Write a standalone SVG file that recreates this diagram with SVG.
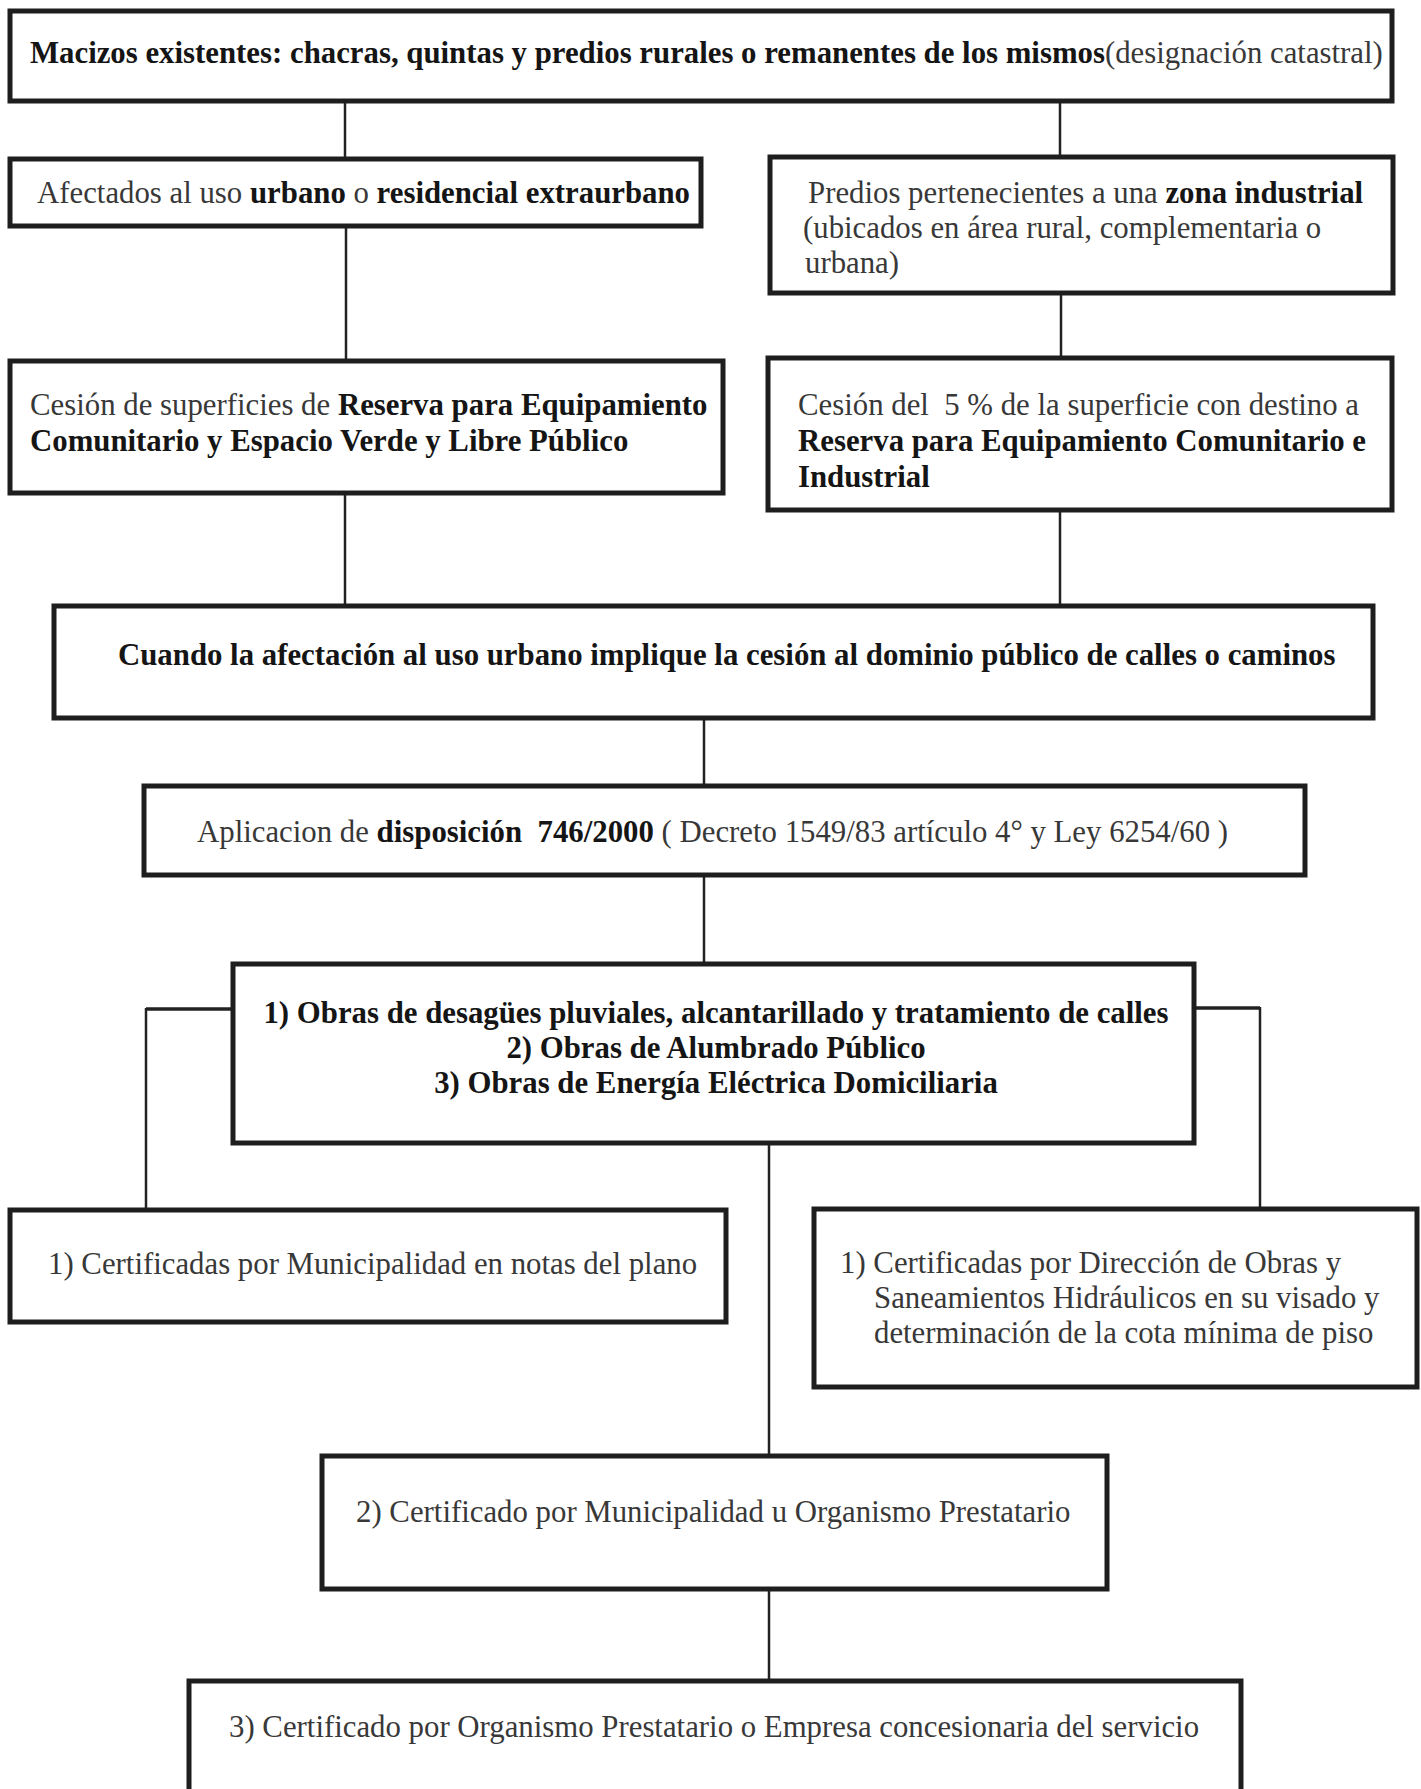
<svg xmlns="http://www.w3.org/2000/svg" width="1421" height="1789" viewBox="0 0 1421 1789">
<style>
  .box { fill: #ffffff; stroke: #1e1e1e; stroke-width: 5; }
  .conn { fill: none; stroke: #222222; stroke-width: 2.5; }
  .connh { fill: none; stroke: #222222; stroke-width: 3.5; }
  text { font-family: "Liberation Serif", "Times New Roman", serif; font-size: 30.8px; fill: #383838; }
  .b { font-weight: bold; fill: #151515; }
  .c { text-anchor: middle; }
</style>
<rect x="0" y="0" width="1421" height="1789" fill="#ffffff"/>

<g id="connectors">
  <line class="conn" x1="345" y1="101" x2="345" y2="160"/>
  <line class="conn" x1="1060" y1="101" x2="1060" y2="157"/>
  <line class="conn" x1="346" y1="226" x2="346" y2="361"/>
  <line class="conn" x1="1061" y1="293" x2="1061" y2="358"/>
  <line class="conn" x1="345" y1="493" x2="345" y2="606"/>
  <line class="conn" x1="1060" y1="510" x2="1060" y2="606"/>
  <line class="conn" x1="704" y1="717" x2="704" y2="786"/>
  <line class="conn" x1="704" y1="875" x2="704" y2="964"/>
  <line class="connh" x1="233" y1="1009" x2="146" y2="1009"/>
  <line class="conn" x1="146" y1="1008" x2="146" y2="1210"/>
  <line class="connh" x1="1194" y1="1008" x2="1260" y2="1008"/>
  <line class="conn" x1="1260" y1="1007" x2="1260" y2="1209"/>
  <line class="conn" x1="769" y1="1143" x2="769" y2="1456"/>
  <line class="conn" x1="769" y1="1589" x2="769" y2="1681"/>
</g>

<g id="n-macizos">
  <rect class="box" x="10" y="11" width="1382" height="90"/>
  <text x="30" y="63"><tspan class="b">Macizos existentes: chacras, quintas y predios rurales o remanentes de los mismos</tspan>(designación catastral)</text>
</g>

<g id="n-afectados">
  <rect class="box" x="10" y="159" width="691" height="67"/>
  <text x="37" y="203" xml:space="preserve">Afectados al uso <tspan class="b">urbano</tspan> o <tspan class="b">residencial extraurbano</tspan></text>
</g>

<g id="n-predios">
  <rect class="box" x="770" y="157" width="623" height="136"/>
  <text x="808" y="203" xml:space="preserve">Predios pertenecientes a una <tspan class="b">zona industrial</tspan></text>
  <text x="803" y="238">(ubicados en área rural, complementaria o</text>
  <text x="805" y="273">urbana)</text>
</g>

<g id="n-cesion">
  <rect class="box" x="10" y="361" width="713" height="132"/>
  <text x="30" y="415" xml:space="preserve">Cesión de superficies de <tspan class="b">Reserva para Equipamiento</tspan></text>
  <text x="30" y="451" class="b">Comunitario y Espacio Verde y Libre Público</text>
</g>

<g id="n-cesion5">
  <rect class="box" x="768" y="358" width="624" height="152"/>
  <text x="798" y="415" xml:space="preserve">Cesión del  5 % de la superficie con destino a</text>
  <text x="798" y="451" class="b">Reserva para Equipamiento Comunitario e</text>
  <text x="798" y="487" class="b">Industrial</text>
</g>

<g id="n-cuando">
  <rect class="box" x="54" y="606" width="1319" height="112"/>
  <text x="118" y="665" class="b">Cuando la afectación al uso urbano implique la cesión al dominio público de calles o caminos</text>
</g>

<g id="n-aplicacion">
  <rect class="box" x="144" y="786" width="1161" height="89"/>
  <text x="197" y="842" xml:space="preserve">Aplicacion de <tspan class="b">disposición  746/2000</tspan> ( Decreto 1549/83 artículo 4° y Ley 6254/60 )</text>
</g>

<g id="n-obras">
  <rect class="box" x="233" y="964" width="961" height="179"/>
  <text x="716" y="1023" class="b c">1) Obras de desagües pluviales, alcantarillado y tratamiento de calles</text>
  <text x="716" y="1058" class="b c">2) Obras de Alumbrado Público</text>
  <text x="716" y="1093" class="b c">3) Obras de Energía Eléctrica Domiciliaria</text>
</g>

<g id="n-municipalidad">
  <rect class="box" x="10" y="1210" width="716" height="112"/>
  <text x="48" y="1274">1) Certificadas por Municipalidad en notas del plano</text>
</g>

<g id="n-direccion">
  <rect class="box" x="814" y="1209" width="603" height="178"/>
  <text x="840" y="1273">1) Certificadas por Dirección de Obras y</text>
  <text x="874" y="1308">Saneamientos Hidráulicos en su visado y</text>
  <text x="874" y="1343">determinación de la cota mínima de piso</text>
</g>

<g id="n-cert2">
  <rect class="box" x="322" y="1456" width="785" height="133"/>
  <text x="356" y="1522">2) Certificado por Municipalidad u Organismo Prestatario</text>
</g>

<g id="n-cert3">
  <rect class="box" x="189" y="1681" width="1052" height="130"/>
  <text x="229" y="1737">3) Certificado por Organismo Prestatario o Empresa concesionaria del servicio</text>
</g>
</svg>
